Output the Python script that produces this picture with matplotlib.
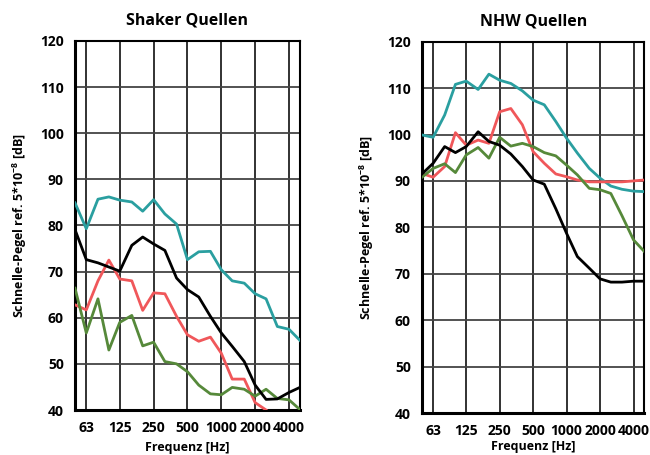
import matplotlib
matplotlib.use("Agg")
import matplotlib.pyplot as plt
from matplotlib.ticker import FixedLocator, NullLocator

plt.rcParams['font.family'] = ['Open Sans', 'DejaVu Sans']
plt.rcParams['font.weight'] = 'bold'
plt.rcParams['mathtext.fontset'] = 'custom'
plt.rcParams['mathtext.rm'] = 'Open Sans:bold'
plt.rcParams['mathtext.it'] = 'Open Sans:bold'
plt.rcParams['mathtext.bf'] = 'Open Sans:bold'

# third-octave band centre frequencies [Hz]
freqs = [50, 63, 80, 100, 125, 160, 200, 250, 315, 400, 500,
         630, 800, 1000, 1250, 1600, 2000, 2500, 3150, 4000, 5000]
oct_ticks = [63, 125, 250, 500, 1000, 2000, 4000]

# Shaker Quellen
shaker_teal = [84.9, 79.3, 85.7, 86.2, 85.5, 85.1, 83.1, 85.6, 82.5, 80.3, 72.6,
               74.3, 74.4, 70.4, 68.0, 67.5, 65.2, 64.1, 58.1, 57.5, 55.1]
shaker_black = [79.1, 72.6, 71.9, 71.0, 70.1, 75.7, 77.5, 76.0, 74.6, 68.6, 66.1,
                64.5, 60.3, 56.7, 53.8, 50.5, 45.4, 42.3, 42.4, 43.8, 44.9]
shaker_red = [62.8, 61.7, 68.0, 72.5, 68.4, 68.0, 61.6, 65.4, 65.2, 60.3, 56.3,
              54.9, 55.8, 52.3, 46.7, 46.7, 41.6, 40.0, 38.0, 36.5, 35.0]
shaker_green = [66.4, 56.7, 64.1, 53.0, 59.0, 60.5, 53.9, 54.7, 50.5, 50.0, 48.3,
                45.4, 43.5, 43.3, 44.9, 44.5, 43.0, 44.5, 42.5, 42.2, 40.1]

# NHW Quellen
nhw_teal = [99.9, 99.4, 104.2, 110.8, 111.5, 109.7, 113.0, 111.7, 111.0, 109.4, 107.4,
            106.4, 102.8, 99.2, 96.0, 92.7, 90.6, 88.9, 88.2, 87.8, 87.7]
nhw_black = [91.5, 93.8, 97.4, 96.1, 97.4, 100.6, 98.5, 97.7, 95.8, 93.1, 90.2,
             89.3, 84.0, 78.7, 73.7, 71.2, 68.9, 68.2, 68.2, 68.4, 68.4]
nhw_red = [91.6, 90.8, 93.1, 100.4, 97.7, 98.8, 98.1, 104.9, 105.6, 102.1, 96.3,
           93.8, 91.5, 90.9, 90.2, 89.8, 89.8, 89.8, 89.8, 90.0, 90.2]
nhw_green = [90.8, 92.7, 93.7, 91.8, 95.6, 97.2, 94.9, 99.4, 97.5, 98.1, 97.4,
             96.1, 95.4, 93.4, 91.3, 88.4, 88.1, 87.3, 82.5, 77.3, 74.8]

c_teal = '#2a9fa0'
c_black = '#000000'
c_red = '#f0575a'
c_green = '#56893a'

fig = plt.figure(figsize=(6.5, 4.55), dpi=100)
ax1 = fig.add_axes([0.1154, 0.0989, 0.346, 0.811])
ax2 = fig.add_axes([0.6492, 0.0923, 0.3420, 0.8161])

panels = [
    (ax1, 'Shaker Quellen', shaker_teal, shaker_black, shaker_red, shaker_green, 4),
    (ax2, 'NHW Quellen', nhw_teal, nhw_black, nhw_red, nhw_green, 1),
]

for ax, title, teal, black, red, green, xpad in panels:
    ax.plot(freqs, teal, color=c_teal, lw=2.0, zorder=3)
    ax.plot(freqs, red, color=c_red, lw=2.0, zorder=3)
    ax.plot(freqs, green, color=c_green, lw=2.0, zorder=3)
    ax.plot(freqs, black, color=c_black, lw=2.0, zorder=4)

    ax.set_xscale('log')
    ax.set_xlim(50, 5000)
    ax.set_ylim(40, 120)
    ax.xaxis.set_major_locator(FixedLocator(oct_ticks))
    ax.xaxis.set_minor_locator(NullLocator())
    ax.set_xticklabels([str(t) for t in oct_ticks])
    ax.set_yticks(range(40, 121, 10))
    ax.tick_params(axis='both', length=0, labelsize=10, pad=8)
    ax.grid(axis='x', color='#222222', lw=1.3)
    ax.grid(axis='y', color='#444444', lw=1.3)
    ax.set_axisbelow(True)
    for side in ['left', 'bottom']:
        ax.spines[side].set_linewidth(2.2)
    for side in ['top', 'right']:
        ax.spines[side].set_linewidth(1.5)
    ax.set_title(title, fontsize=11.5, fontweight='bold', pad=12)
    ax.set_xlabel('Frequenz [Hz]', fontsize=9, fontweight='bold', labelpad=xpad)
    ax.set_ylabel(r'Schnelle-Pegel ref. 5*10$^{-8}$ [dB]', fontsize=9,
                  fontweight='bold', labelpad=8)

fig.savefig('out.png', dpi=100)
